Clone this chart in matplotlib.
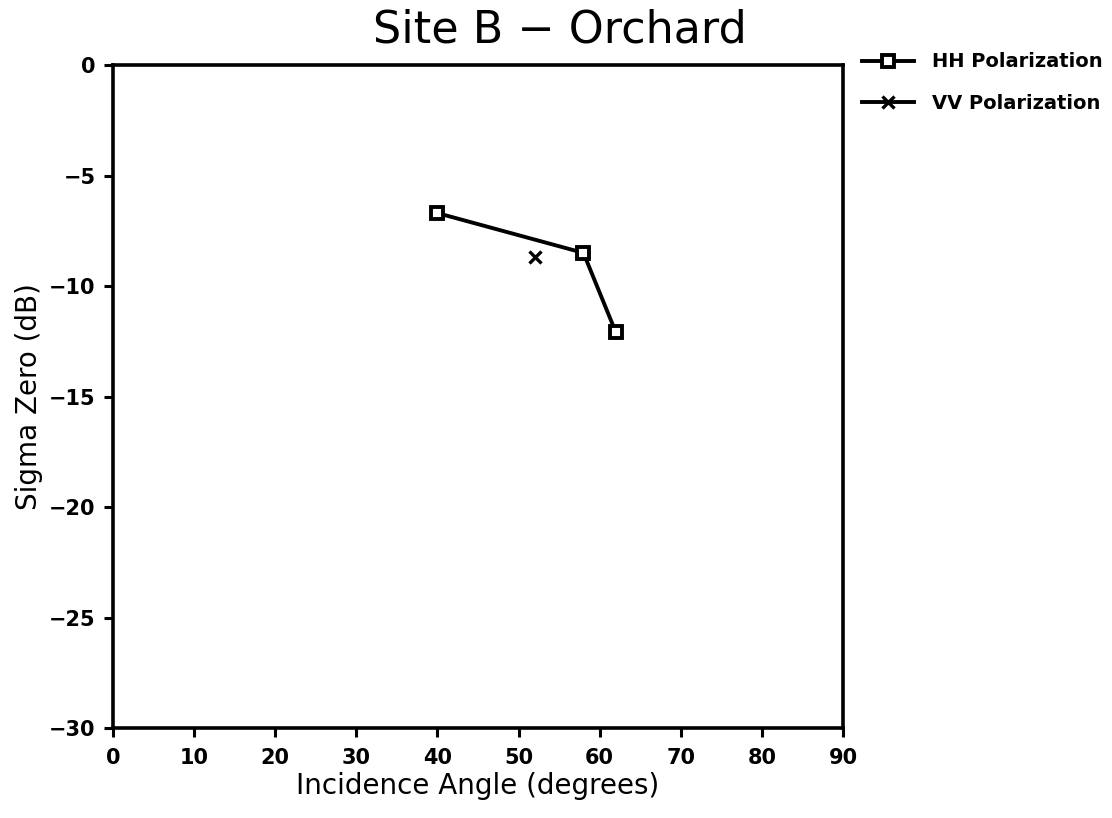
import matplotlib.pyplot as plt

# data
hh_angle = [40, 58, 62]
hh_sigma = [-6.7, -8.5, -12.1]
vv_angle = [52]
vv_sigma = [-8.7]

x_ticks = [0, 10, 20, 30, 40, 50, 60, 70, 80, 90]
y_ticks = [0, -5, -10, -15, -20, -25, -30]

fig = plt.figure(figsize=(11.12, 8.18), dpi=100)
ax = fig.add_axes([0.1016, 0.110, 0.6565, 0.8105])

ax.plot(hh_angle, hh_sigma, color='black', lw=2.8, marker='s', ms=9,
        mfc='white', mec='black', mew=2.8, label='HH Polarization')
ax.plot(vv_angle, vv_sigma, color='black', lw=2.8, ls='-', marker='x', ms=9,
        mew=2.4, label='VV Polarization')

ax.set_xlim(0, 90)
ax.set_ylim(-30, 0)
ax.set_xticks(x_ticks)
ax.set_yticks(y_ticks)
ax.set_yticklabels([str(v).replace('-', '\u2212') for v in y_ticks])
ax.tick_params(direction='out', length=6.5, width=2.2, labelsize=15)
ax.tick_params(axis='x', pad=8)
ax.tick_params(axis='y', pad=6)
for lab in ax.get_xticklabels() + ax.get_yticklabels():
    lab.set_fontweight('bold')
for s in ax.spines.values():
    s.set_linewidth(2.6)

ax.set_xlabel('Incidence Angle (degrees)', fontsize=20, labelpad=3)
ax.set_ylabel('Sigma Zero (dB)', fontsize=20, labelpad=4)
fig.text(0.5036, 0.963, 'Site B \u2212 Orchard', fontsize=32,
         ha='center', va='center')

leg = fig.legend(loc='upper left', bbox_to_anchor=(0.775, 0.936), frameon=False,
                 borderpad=0, borderaxespad=0,
                 handlelength=2.7, handletextpad=0.9, labelspacing=1.15,
                 prop={'weight': 'bold', 'size': 14})

fig.savefig('out.png', dpi=100)
